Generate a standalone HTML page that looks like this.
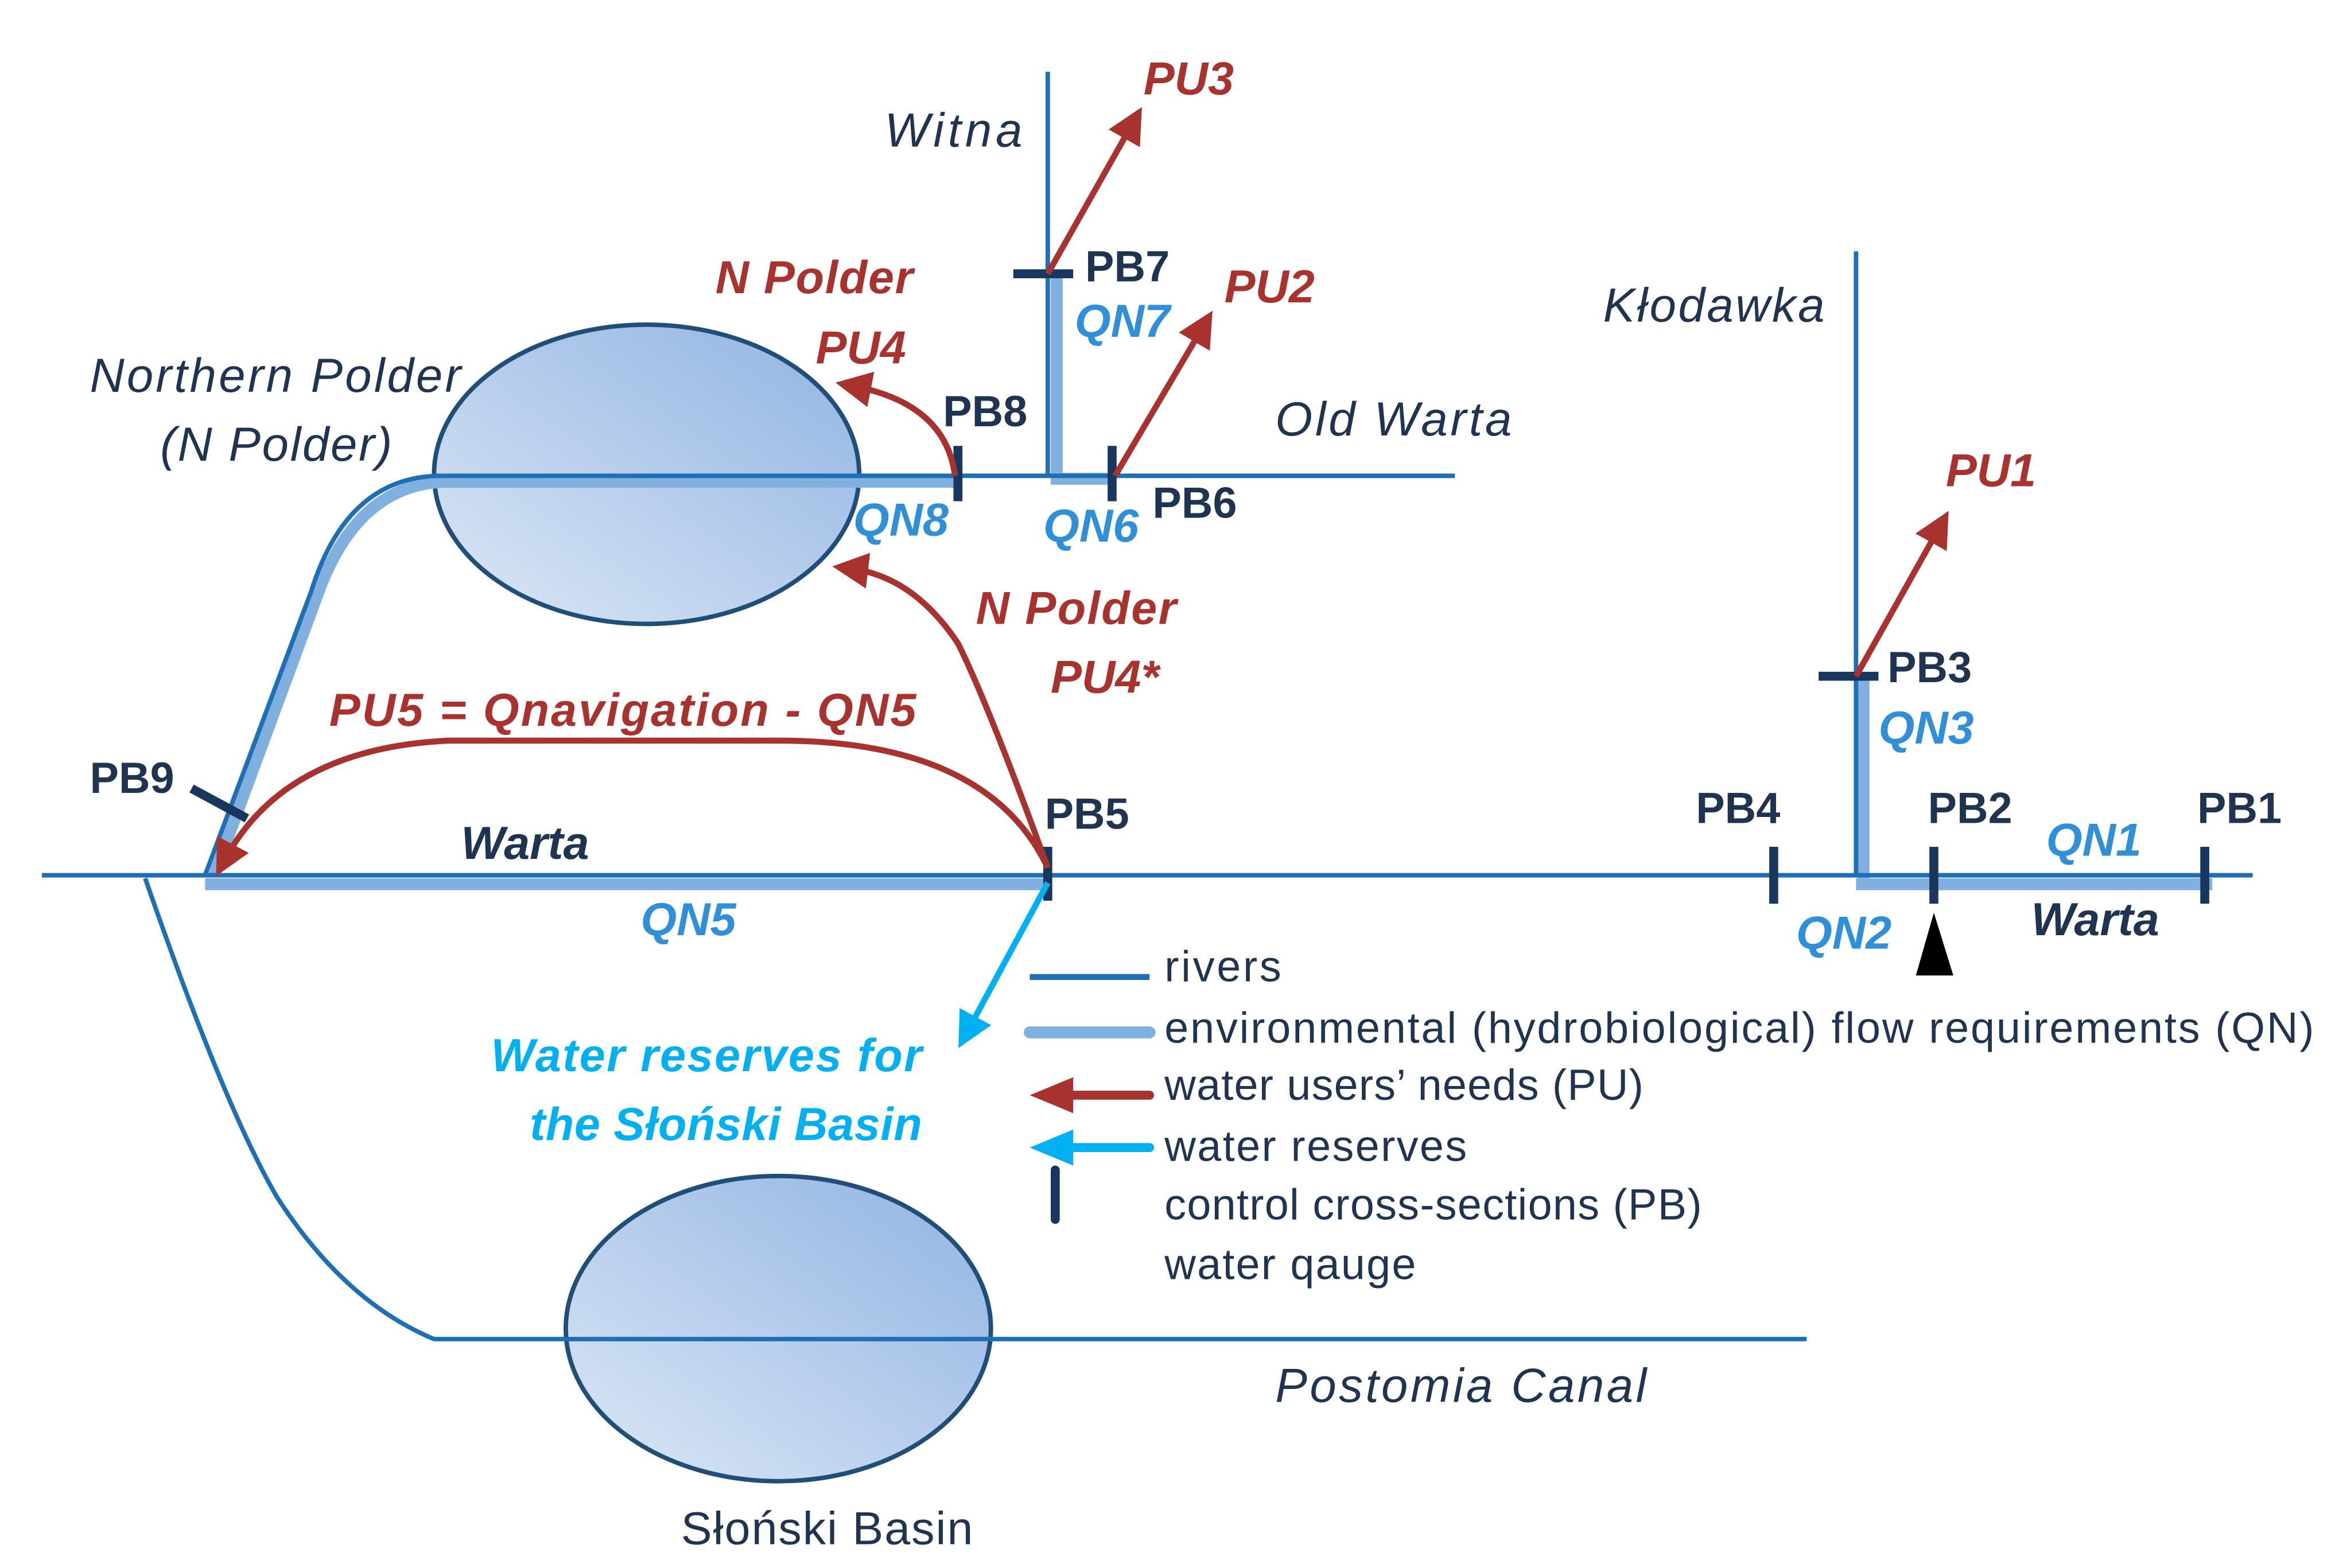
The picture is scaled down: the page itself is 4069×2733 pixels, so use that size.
<!DOCTYPE html>
<html><head><meta charset="utf-8"><style>
html,body{margin:0;padding:0;background:#fff}
svg{display:block}
text{font-family:"Liberation Sans",sans-serif}
.lb{font-style:italic;font-weight:bold;font-size:31px}
.red{fill:#a8322d}
.cy{fill:#2f8fd8}
.dk{fill:#1f3450;font-weight:bold;font-size:29px}
.it{font-style:italic;fill:#1f3450;font-size:32px}
.lg{fill:#1f3450;font-size:29px}
</style></head><body>
<svg width="4069" height="2733" viewBox="0 0 1560 1048" preserveAspectRatio="none" xmlns="http://www.w3.org/2000/svg">
<defs>
<linearGradient id="g" x1="1" y1="0" x2="0" y2="1">
<stop offset="0" stop-color="#8fb2e2"/><stop offset="1" stop-color="#dde8f6"/>
</linearGradient>
<marker id="ar" markerWidth="6" markerHeight="6" refX="3" refY="3" orient="auto" markerUnits="strokeWidth"><path d="M0,0 L6,3 L0,6 z" fill="#a8322d"/></marker>
<marker id="ac" markerWidth="6" markerHeight="6" refX="3" refY="3" orient="auto" markerUnits="strokeWidth"><path d="M0,0 L6,3 L0,6 z" fill="#00b0f0"/></marker>
</defs>
<ellipse cx="432" cy="317" rx="142" ry="100" fill="url(#g)" stroke="#1f4e79" stroke-width="3"/>
<ellipse cx="520" cy="888" rx="142" ry="102" fill="url(#g)" stroke="#1f4e79" stroke-width="3"/>
<g stroke="#7fb0e0" stroke-width="8" fill="none">
<path d="M137,591 L700,591"/>
<path d="M1240,591 L1478,591"/>
<path d="M143,585 L213,395 Q240,322 300,322 L640,322"/>
<path d="M706,183 L706,320 L745,320"/>
<path d="M1245,452 L1245,588"/>
</g>
<g stroke="#1f6fb5" stroke-width="3" fill="none">
<path d="M28,585 L1505,585"/>
<path d="M97,587 Q150,740 185,800 Q230,870 290,895 L1207,895"/>
<path d="M137,585 L208,395 Q232,318 295,318 L972,318"/>
<path d="M700,48 L700,318"/>
<path d="M1240,168 L1240,585"/>
</g>
<g stroke="#17375e" stroke-width="6">
<path d="M677,183 L717,183"/><path d="M743,298 L743,335"/><path d="M640,298 L640,335"/>
<path d="M128,527 L165,547"/><path d="M700,566 L700,602"/><path d="M1215,452 L1255,452"/>
<path d="M1185,566 L1185,604"/><path d="M1292,566 L1292,604"/><path d="M1473,566 L1473,604"/>
</g>
<path d="M1292,610 L1280,652 L1305,652 z" fill="#000"/>
<g stroke="#a8322d" stroke-width="4" fill="none" marker-end="url(#ar)">
<path d="M700,183 L757,82"/>
<path d="M745,318 L804,218"/>
<path d="M1240,452 L1296,352"/>
<path d="M638,318 Q632,270 570,258"/>
<path d="M700,580 Q660,470 640,430 Q610,385 568,380"/>
<path d="M700,580 Q660,495 520,495 L300,495 Q190,500 150,575"/>
</g>
<path d="M700,590 L646,690" stroke="#00b0f0" stroke-width="4" fill="none" marker-end="url(#ac)"/>
<path d="M688,653 L768,653" stroke="#1f6fb5" stroke-width="4"/>
<path d="M688,690 L768,690" stroke="#7fb0e0" stroke-width="8" stroke-linecap="round"/>
<path d="M715,732 L768,732" stroke="#a8322d" stroke-width="6" stroke-linecap="round"/><path d="M688,732 L717,720 L717,744 z" fill="#a8322d"/>
<path d="M715,767 L768,767" stroke="#00b0f0" stroke-width="6" stroke-linecap="round"/><path d="M688,767 L717,755 L717,779 z" fill="#00b0f0"/>
<path d="M705,782 L705,815" stroke="#17375e" stroke-width="6" stroke-linecap="round"/>
<text class="lg" x="778" y="656" textLength="78">rivers</text>
<text class="lg" x="778" y="697" textLength="768">environmental (hydrobiological) flow  requirements (QN)</text>
<text class="lg" x="778" y="735" textLength="320">water users’ needs (PU)</text>
<text class="lg" x="778" y="776" textLength="202">water reserves</text>
<text class="lg" x="778" y="815" textLength="359">control cross-sections (PB)</text>
<text class="lg" x="778" y="855" textLength="168">water qauge</text>
<text class="lb red" x="764" y="63">PU3</text>
<text class="lb red" x="818" y="202">PU2</text>
<text class="lb red" x="1300" y="325">PU1</text>
<text class="lb red" x="478" y="196" textLength="132">N Polder</text>
<text class="lb red" x="545" y="243">PU4</text>
<text class="lb red" x="652" y="417" textLength="134">N Polder</text>
<text class="lb red" x="702" y="463">PU4*</text>
<text class="lb red" x="220" y="485" textLength="392">PU5 = Qnavigation  - QN5</text>
<text class="lb cy" x="718" y="225">QN7</text>
<text class="lb cy" x="570" y="358">QN8</text>
<text class="lb cy" x="697" y="362">QN6</text>
<text class="lb cy" x="1255" y="497">QN3</text>
<text class="lb cy" x="1367" y="572">QN1</text>
<text class="lb cy" x="1200" y="634">QN2</text>
<text class="lb cy" x="428" y="625">QN5</text>
<text class="dk" x="725" y="188">PB7</text>
<text class="dk" x="630" y="285">PB8</text>
<text class="dk" x="770" y="346">PB6</text>
<text class="dk" x="1261" y="456">PB3</text>
<text class="dk" x="60" y="530">PB9</text>
<text class="dk" x="698" y="554">PB5</text>
<text class="dk" x="1133" y="550">PB4</text>
<text class="dk" x="1288" y="550">PB2</text>
<text class="dk" x="1468" y="550">PB1</text>
<text class="lb" x="308" y="574" fill="#1f3450">Warta</text>
<text class="lb" x="1357" y="625" fill="#1f3450">Warta</text>
<text class="it" x="591" y="98" textLength="92">Witna</text>
<text class="it" x="1071" y="215" textLength="148">Kłodawka</text>
<text class="it" x="852" y="291" textLength="158">Old Warta</text>
<text class="it" x="60" y="262" textLength="248">Northern Polder</text>
<text class="it" x="107" y="308" textLength="155">(N Polder)</text>
<text class="it" x="852" y="937" textLength="248">Postomia  Canal</text>
<text x="455" y="1032" font-size="31" fill="#1f3450" textLength="195">Słoński Basin</text>
<text class="lb" x="328" y="716" fill="#00b0f0" font-size="33" textLength="288">Water reserves  for</text>
<text class="lb" x="354" y="762" fill="#00b0f0" font-size="33" textLength="262">the Słoński Basin</text>
</svg>
</body></html>
